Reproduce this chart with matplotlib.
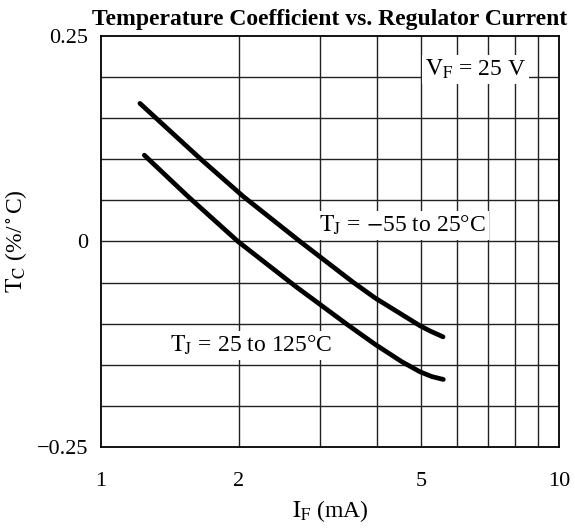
import numpy as np
import matplotlib.pyplot as plt
from matplotlib.ticker import FixedLocator, NullFormatter

plt.rcParams['font.family'] = ['Liberation Serif', 'DejaVu Serif']
plt.rcParams['mathtext.fontset'] = 'stix'

# curve values (I_F in mA, T_C in %/°C)
cold_if = [1.216, 1.645, 2.042, 2.72, 3.55, 3.966, 4.971, 5.227, 5.582]
cold_tc = [0.168, 0.101, 0.055, 0.000, -0.0495, -0.0687, -0.1025, -0.1088, -0.116]

hot_if = [1.243, 1.549, 1.991, 2.652, 3.44, 3.966, 4.535, 4.971, 5.28, 5.59]
hot_tc = [0.105, 0.0547, 0.000, -0.0541, -0.1006, -0.1251, -0.1462, -0.1585, -0.1644, -0.1678]

x_ticks = [1, 2, 5, 10]
x_grid = [2, 3, 4, 5, 6, 7, 8, 9]
y_ticks = [-0.25, 0, 0.25]
y_grid = [-0.2, -0.15, -0.1, -0.05, 0, 0.05, 0.1, 0.15, 0.2]

fig = plt.figure(figsize=(5.75, 5.29), dpi=100)
ax = fig.add_axes([0.1757, 0.155, 0.7965, 0.777])

ax.set_xscale('log')
ax.set_xlim(1, 10)
ax.set_ylim(-0.25, 0.25)

for g in x_grid:
    ax.axvline(g, color='#222222', lw=1.0, zorder=1)
for g in y_grid:
    ax.axhline(g, color='#222222', lw=1.0, zorder=1)

ax.plot(cold_if, cold_tc, color='black', lw=3.4, solid_capstyle='round',
        solid_joinstyle='round', zorder=3)
ax.plot(hot_if, hot_tc, color='black', lw=3.4, solid_capstyle='round',
        solid_joinstyle='round', zorder=3)

ax.xaxis.set_major_locator(FixedLocator(x_ticks))
ax.xaxis.set_minor_locator(FixedLocator([]))
ax.xaxis.set_minor_formatter(NullFormatter())
ax.set_xticklabels(['1', '2', '5', '10'])
ax.set_yticks(y_ticks)
ax.set_yticklabels(['\u22120.25', '0', '0.25'])
ax.tick_params(axis='both', length=0, labelsize=16)
ax.tick_params(axis='x', pad=18)
ax.tick_params(axis='y', pad=9)

for s in ax.spines.values():
    s.set_linewidth(1.3)

box = dict(facecolor='white', edgecolor='none', pad=2)
ax.text(6.57, 0.209, r'$\mathrm{V_F}$ = 25 V', fontsize=17, ha='center', va='center',
        bbox=box, zorder=4)
ax.text(4.55, 0.020, r'$\mathrm{T_J}$ = $-$55 to 25°C', fontsize=17, ha='center',
        va='center', bbox=box, zorder=4)
ax.text(2.13, -0.126, r'$\mathrm{T_J}$ = 25 to 125°C', fontsize=17, ha='center',
        va='center', bbox=box, zorder=4)

ax.set_title('Temperature Coefficient vs. Regulator Current', fontsize=17,
             fontweight='bold', pad=8)
ax.set_xlabel(r'$\mathrm{I_F}$ (mA)', fontsize=17, labelpad=5)
ax.set_ylabel(r'$\mathrm{T_C}$ (%/$^\circ$C)', fontsize=17, labelpad=6)

fig.savefig('out.png', dpi=100)
